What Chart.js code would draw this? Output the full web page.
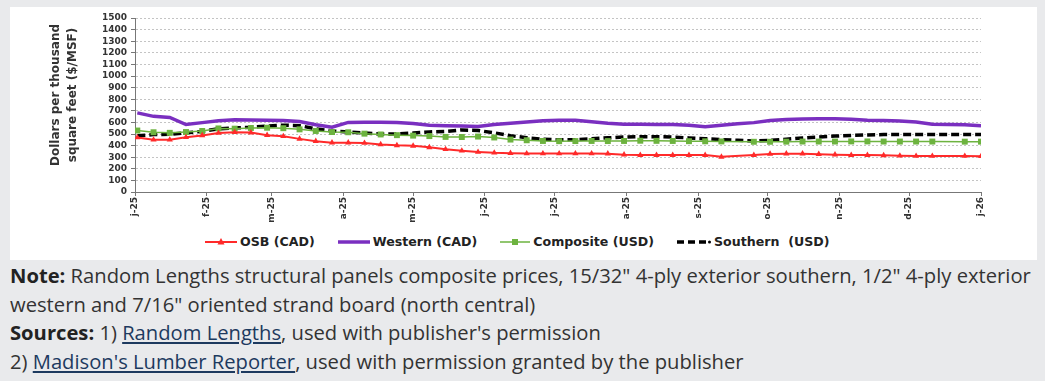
<!DOCTYPE html>
<html><head><meta charset="utf-8">
<script src="https://cdn.jsdelivr.net/npm/chart.js@4.4.1/dist/chart.umd.min.js"></script>
<style>
html,body{margin:0;padding:0;background:#e9eaec;width:1045px;height:381px;overflow:hidden;}
#panel{position:absolute;left:10px;top:7px;width:1027px;height:253px;background:#fff;}
#chart{position:absolute;left:0;top:0;}
#legend{position:absolute;left:195px;top:227px;display:flex;gap:23px;align-items:center;font:bold 12.6px "DejaVu Sans";color:#222;}
.item{display:flex;align-items:center;gap:3px;white-space:pre;}
.item svg{display:block}
#note{position:absolute;left:10px;top:261px;width:1033px;font:20.2px/28.5px "Open Sans";color:#333;white-space:nowrap;}
#note b{font-weight:700;color:#222}
#note a{color:#1d3a5f;text-decoration:underline;}
</style></head>
<body>
<div id="panel">
  <canvas id="chart" width="1027" height="225"></canvas>
  <div id="legend">
    <div class="item"><svg width="32" height="12"><line x1="0" y1="6" x2="32" y2="6" stroke="#ff2a2a" stroke-width="2"/><polygon points="16,2 19.5,8.5 12.5,8.5" fill="#ff2a2a"/></svg><span>OSB (CAD)</span></div>
    <div class="item"><svg width="32" height="12"><line x1="0" y1="6" x2="32" y2="6" stroke="#7a2fc0" stroke-width="3.5"/></svg><span>Western (CAD)</span></div>
    <div class="item"><svg width="30" height="12"><line x1="0" y1="6" x2="30" y2="6" stroke="#6db33f" stroke-width="1.5"/><rect x="12" y="3" width="6" height="6" fill="#6db33f"/></svg><span>Composite (USD)</span></div>
    <div class="item"><svg width="34" height="12"><line x1="0" y1="6" x2="31" y2="6" stroke="#000" stroke-width="3.5" stroke-dasharray="7,4"/><circle cx="32.5" cy="6" r="1.5" fill="#000"/></svg><span>Southern  (USD)</span></div>
  </div>
</div>
<div id="note"><b>Note:</b> Random Lengths structural panels composite prices, 15/32" 4-ply exterior southern, 1/2" 4-ply exterior<br>western and 7/16" oriented strand board (north central)<br><b>Sources:</b> 1) <a href="#">Random Lengths</a>, used with publisher's permission<br>2) <a href="#">Madison's Lumber Reporter</a>, used with permission granted by the publisher</div>
<script>
// ---- data ----
const weekDates = ['2025-01-02','2025-01-09','2025-01-16','2025-01-23','2025-01-30',
  '2025-02-06','2025-02-13','2025-02-20','2025-02-27',
  '2025-03-06','2025-03-13','2025-03-20','2025-03-27',
  '2025-04-03','2025-04-10','2025-04-17','2025-04-24',
  '2025-05-01','2025-05-08','2025-05-15','2025-05-22','2025-05-29',
  '2025-06-05','2025-06-12','2025-06-19','2025-06-26',
  '2025-07-03','2025-07-10','2025-07-17','2025-07-24','2025-07-31',
  '2025-08-07','2025-08-14','2025-08-21','2025-08-28',
  '2025-09-04','2025-09-11','2025-09-18','2025-09-25',
  '2025-10-02','2025-10-09','2025-10-16','2025-10-23','2025-10-30',
  '2025-11-06','2025-11-13','2025-11-20','2025-11-27',
  '2025-12-04','2025-12-11','2025-12-18','2025-12-25','2026-01-01'];

const osbCad = [470,450,450,472,488,508,515,512,490,480,458,438,425,425,422,410,402,398,385,368,355,
  345,338,335,332,332,332,332,332,330,322,318,318,318,318,318,303,null,318,328,330,330,326,322,318,318,316,312,310,310,null,310,308];

const westernCad = [682,652,643,582,598,615,622,620,618,616,608,580,558,600,602,602,600,590,575,572,568,
  565,582,592,603,615,618,618,605,592,585,583,582,582,575,562,575,588,598,617,625,630,632,632,628,618,617,612,603,585,582,580,572];

const compositeUsd = [530,515,510,517,526,548,546,552,554,550,540,526,517,515,503,496,490,486,482,475,474,
  478,470,452,446,440,438,439,440,439,440,442,441,440,438,437,436,null,433,433,434,435,435,435,436,436,435,435,435,435,null,434,434];

const southernUsd = [485,495,498,510,522,545,553,558,568,576,572,545,525,518,508,500,500,508,518,522,535,
  530,510,485,468,455,450,452,458,467,474,477,477,474,466,460,452,446,440,445,455,466,474,482,488,492,495,496,496,496,496,496,496];

const tickDates = ['2025-01-01','2025-02-01','2025-03-01','2025-04-01','2025-05-01','2025-06-01','2025-07-01',
  '2025-08-01','2025-09-01','2025-10-01','2025-11-01','2025-12-01','2026-01-01'];
const tickLabels = ['j-25','f-25','m-25','a-25','m-25','j-25','j-25','a-25','s-25','o-25','n-25','d-25','j-26'];
const yTicks = [0,100,200,300,400,500,600,700,800,900,1000,1100,1200,1300,1400,1500];
const yTitleLines = ['Dollars per thousand','square feet ($/MSF)'];

// ---- helpers ----
const origin = Date.UTC(2025,0,1);
function dayOf(s){const p=s.split('-').map(Number);return (Date.UTC(p[0],p[1]-1,p[2])-origin)/86400000;}
function pts(vals){return weekDates.map((d,i)=>({x:dayOf(d),y:vals[i]}));}
const tickDays = tickDates.map(dayOf);

const yTitlePlugin = {
  id:'yTitle',
  afterDraw(c){
    const ctx=c.ctx; ctx.save();
    ctx.font='bold 12px "DejaVu Sans"'; ctx.fillStyle='#333';
    ctx.textAlign='center'; ctx.textBaseline='middle';
    const xs=[46,63];
    yTitleLines.forEach((t,i)=>{ctx.save();ctx.translate(xs[i],88);ctx.rotate(-Math.PI/2);ctx.fillText(t,0,0);ctx.restore();});
    ctx.restore();
  }
};

const tickFont = {family:'DejaVu Sans', size:9, weight:'bold'};

new Chart(document.getElementById('chart'), {
  type:'line',
  data:{datasets:[
    {label:'Western (CAD)', data:pts(westernCad), borderColor:'#7a2fc0', borderWidth:3.5, pointRadius:0, spanGaps:true, order:4},
    {label:'Southern  (USD)', data:pts(southernUsd), borderColor:'#000', borderWidth:3.5, borderDash:[8,4], pointRadius:0, spanGaps:true, order:3},
    {label:'Composite (USD)', data:pts(compositeUsd), borderColor:'#6db33f', backgroundColor:'#6db33f', borderWidth:1.5,
      pointStyle:'rect', pointRadius:4.2, pointBorderWidth:0, spanGaps:true, order:2},
    {label:'OSB (CAD)', data:pts(osbCad), borderColor:'#ff2a2a', backgroundColor:'#ff2a2a', borderWidth:2,
      pointStyle:'triangle', pointRadius:3.6, pointBorderWidth:0, spanGaps:true, order:1}
  ]},
  options:{
    responsive:false, animation:false, devicePixelRatio:1,
    layout:{padding:{top:11,right:56,left:0,bottom:0}},
    plugins:{legend:{display:false}, tooltip:{enabled:false}},
    elements:{line:{tension:0}},
    scales:{
      x:{type:'linear', min:0, max:365,
        afterBuildTicks:s=>{s.ticks=tickDays.map(v=>({value:v}));},
        afterFit:s=>{s.height=40;},
        ticks:{autoSkip:false, minRotation:90, maxRotation:90, padding:1, font:tickFont, color:'#333',
          callback:(v,i)=>tickLabels[i]},
        grid:{drawOnChartArea:false, drawTicks:true, tickLength:4, tickColor:'#777'},
        border:{color:'#777', width:1}},
      y:{min:0, max:1500,
        afterBuildTicks:s=>{s.ticks=yTicks.map(v=>({value:v}));},
        afterFit:s=>{s.width=125;},
        ticks:{autoSkip:false, padding:4, font:tickFont, color:'#333', callback:(v,i)=>String(yTicks[i])},
        grid:{color:'#c4c4c4', lineWidth:1, tickLength:4, tickColor:'#777', tickBorderDash:[]},
        border:{color:'#777', width:1, dash:[2,2]}}
    }
  },
  plugins:[yTitlePlugin]
});
</script>
</body></html>
